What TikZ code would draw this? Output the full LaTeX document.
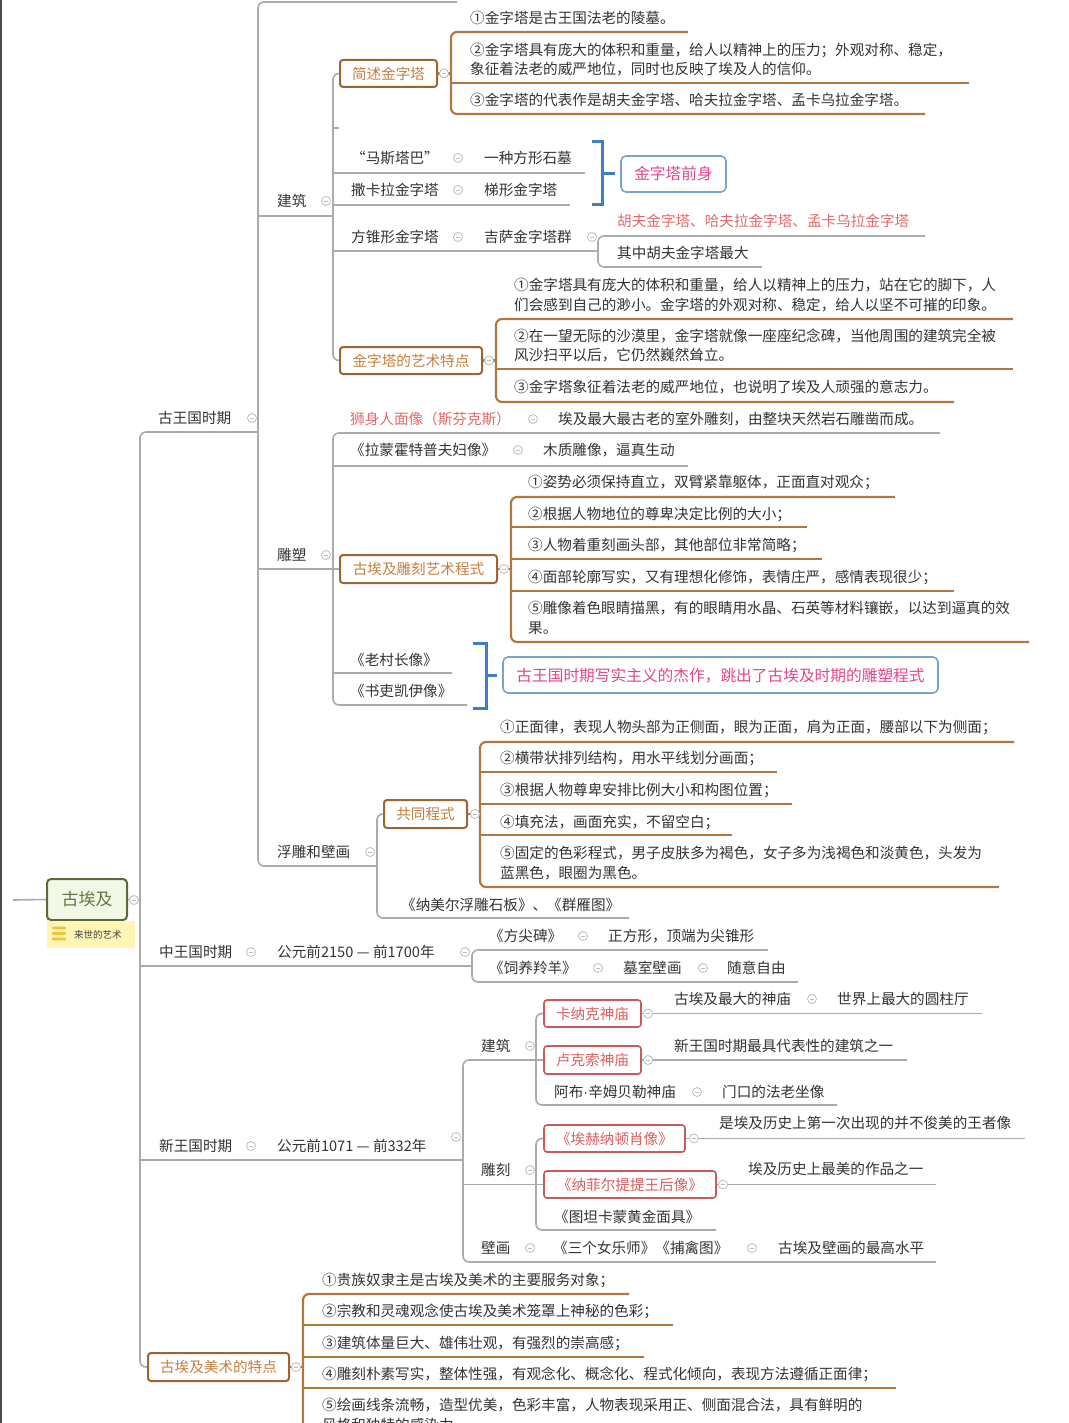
\documentclass[tikz,border=0pt]{standalone}
\usepackage{fontspec}
\setmainfont{Noto Sans CJK SC}
\newfontfamily\latinf{Liberation Sans}
\definecolor{gline}{HTML}{ABABAB}
\definecolor{bline}{HTML}{B07840}
\definecolor{bborder}{HTML}{9C6633}
\definecolor{btext}{HTML}{C67E3E}
\definecolor{rborder}{HTML}{C95B5B}
\definecolor{rtext}{HTML}{D9605E}
\definecolor{bracketblue}{HTML}{3E7EC6}
\definecolor{bluebox}{HTML}{77A3D0}
\definecolor{pinktext}{HTML}{E2468B}
\definecolor{salmon}{HTML}{E2696A}
\definecolor{maintext}{HTML}{333333}
\definecolor{rootborder}{HTML}{5B6A38}
\definecolor{rootfill}{HTML}{F3F7E5}
\definecolor{roottext}{HTML}{66763F}
\definecolor{notefill}{HTML}{FFF6B5}
\definecolor{noteicon}{HTML}{F1C23C}
\definecolor{clpscol}{HTML}{BDBDBD}
\newcommand{\fs}{\fontsize{14.6}{19.6}\selectfont}
\newcommand{\fsb}{\fontsize{15.7}{19.6}\selectfont}
\begin{document}
\begin{tikzpicture}[x=1pt,y=-1pt,
 txt/.style={anchor=west, inner sep=0pt, font=\fs, text=maintext, text height=12.8pt, text depth=1.7pt},
 mtxt/.style={anchor=west, inner sep=0pt, font=\fs, text=maintext, align=left},
 gl/.style={draw=gline, line width=1.6pt, rounded corners=6pt},
 bl/.style={draw=bline, line width=2.2pt, rounded corners=6pt},
 bbox/.style={draw=bborder, line width=2pt, rounded corners=3pt, fill=white, text=btext, font=\fs, inner sep=0pt, text height=12.8pt, text depth=1.7pt},
 rbox/.style={draw=rborder, line width=1.6pt, rounded corners=3pt, fill=white, text=rtext, font=\fs, inner sep=0pt, text height=12.8pt, text depth=1.7pt},
 blbox/.style={draw=bluebox, line width=1.6pt, rounded corners=5pt, fill=white, text=pinktext, font=\fsb, inner sep=0pt, text height=13.8pt, text depth=1.8pt},
 brk/.style={draw=bracketblue, line width=3pt},
 clps/.style={circle, draw=clpscol, fill=white, line width=0.8pt, minimum size=9pt, inner sep=0pt,
   path picture={\draw[clpscol, line width=0.8pt] ([xshift=-2.4pt]path picture bounding box.center) -- ([xshift=2.4pt]path picture bounding box.center);}},
]
\path[use as bounding box, fill=white] (0,0) rectangle (1068,1423);
\clip (0,0) rectangle (1068,1423);
\draw[line width=2.2pt, draw=black!70] (1,0) -- (1,1423);

% ---------- main trunk ----------
\node[draw=rootborder, line width=2pt, rounded corners=4pt, fill=rootfill, text=roottext,
  font=\fontsize{17}{20}\selectfont, minimum width=80pt, minimum height=41pt, inner sep=0pt] (root) at (87,899.5) {古埃及};
\fill[notefill] (47,921) rectangle (135,948);
\foreach \yy in {928,933.5,939} \fill[noteicon, rounded corners=1pt] (52,\yy-1.3) rectangle (66,\yy+1.3);
\node[anchor=west, inner sep=0pt, font=\fontsize{9.5}{11}\selectfont, text=black!75] (note) at (74,934.5) {来世的艺术};

\node[draw=bborder, line width=2pt, rounded corners=3pt, fill=white, text=btext, font=\fs, inner sep=0pt, text height=12.8pt, text depth=1.7pt, minimum width=141pt, minimum height=28pt] (tedian) at (218.5,1367) {古埃及美术的特点};

\draw[gl] (13,900) -- (root.west);
\draw[gl] (root.east) -- (140,900);
\draw[gl] (258,432) -- (140,432) -- (140,1367) -- (tedian.west);

% ---------- 古王国时期 ----------
\node[txt] (gwg) at (158,418) {古王国时期};
\draw[gl] (457,2) -- (258,2) -- (258,866) -- (377,866);

% 建筑
\node[txt] (jz1) at (277,201) {建筑};
\draw[gl] (258,216) -- (333,216);
\node[bbox, minimum width=97pt, minimum height=27pt] (jsjzt) at (388.5,73.5) {简述金字塔};
\node[bbox, minimum width=142pt, minimum height=27pt] (ystd) at (411,360.5) {金字塔的艺术特点};
\draw[gl] (jsjzt.west) -- (333,73.5) -- (333,360.5) -- (ystd.west);
\draw[gl] (333,128) -- (339,128);

\node[txt] (mstb) at (351,158) {“马斯塔巴”};
\node[txt] (yzfx) at (484,158) {一种方形石墓};
\draw[gl] (333,173) -- (585,173);
\node[txt] (skl) at (351,190) {撒卡拉金字塔};
\node[txt] (txjzt) at (484,190) {梯形金字塔};
\draw[gl] (333,205) -- (570,205);
\node[txt] (fzx) at (351,237) {方锥形金字塔};
\node[txt] (jsq) at (484,237) {吉萨金字塔群};
\draw[gl] (333,251) -- (598,251);
\node[txt, text=salmon] (hfjzt) at (617,221) {胡夫金字塔、哈夫拉金字塔、孟卡乌拉金字塔};
\node[txt] (qzhf) at (617,253) {其中胡夫金字塔最大};
\draw[gl] (925,236) -- (598,236) -- (598,267) -- (762,267);

\draw[brk] (592,142) -- (602,142) -- (602,205) -- (592,205);
\draw[brk] (602,173.5) -- (615,173.5);
\node[blbox, minimum width=105pt, minimum height=36pt] (qs) at (673.5,174) {金字塔前身};

% 简述金字塔 children
\draw[bl] (jsjzt.east) -- (451,73.5);
\draw[bl] (688,32) -- (451,32) -- (451,114) -- (925,114);
\draw[bl] (451,83) -- (969,83);
\node[txt] (a1) at (470,18) {①金字塔是古王国法老的陵墓。};
\node[mtxt] (a2) at (470,59.5) {②金字塔具有庞大的体积和重量，给人以精神上的压力；外观对称、稳定，\\象征着法老的威严地位，同时也反映了埃及人的信仰。};
\node[txt] (a3) at (470,100) {③金字塔的代表作是胡夫金字塔、哈夫拉金字塔、孟卡乌拉金字塔。};

% 艺术特点 children
\draw[bl] (ystd.east) -- (496,360.5);
\draw[bl] (1013,319) -- (496,319) -- (496,402) -- (954,402);
\draw[bl] (496,369) -- (1013,369);
\node[mtxt] (b1) at (514,295) {①金字塔具有庞大的体积和重量，给人以精神上的压力，站在它的脚下，人\\们会感到自己的渺小。金字塔的外观对称、稳定，给人以坚不可摧的印象。};
\node[mtxt] (b2) at (514,345.5) {②在一望无际的沙漠里，金字塔就像一座座纪念碑，当他周围的建筑完全被\\风沙扫平以后，它仍然巍然耸立。};
\node[txt] (b3) at (514,387) {③金字塔象征着法老的威严地位，也说明了埃及人顽强的意志力。};

% 雕塑
\node[txt] (ds) at (277,555) {雕塑};
\node[bbox, minimum width=157pt, minimum height=28pt] (dkcs) at (418.5,569) {古埃及雕刻艺术程式};
\draw[gl] (258,569) -- (dkcs.west);
\draw[gl] (940,433) -- (333,433) -- (333,705) -- (467,705);
\node[txt, text=salmon] (ssrm) at (350,419) {狮身人面像（斯芬克斯）};
\node[txt] (ssrmd) at (558,419) {埃及最大最古老的室外雕刻，由整块天然岩石雕凿而成。};
\node[txt] (lmht) at (350,450) {《拉蒙霍特普夫妇像》};
\node[txt] (mzdx) at (543,450) {木质雕像，逼真生动};
\draw[gl] (333,466) -- (688,466);
\node[txt] (lcz) at (350,660) {《老村长像》};
\draw[gl] (333,673) -- (452,673);
\node[txt] (sl) at (350,691) {《书吏凯伊像》};
\draw[brk] (473,643) -- (486,643) -- (486,708) -- (473,708);
\draw[brk] (486,675) -- (497,675);
\node[blbox, minimum width=435pt, minimum height=36pt] (xszy) at (720.5,675) {古王国时期写实主义的杰作，跳出了古埃及时期的雕塑程式};

\draw[bl] (dkcs.east) -- (511,569);
\draw[bl] (895,497) -- (511,497) -- (511,642) -- (1029,642);
\draw[bl] (511,527) -- (807,527);
\draw[bl] (511,559) -- (822,559);
\draw[bl] (511,591) -- (954,591);
\node[txt] (c1) at (528,482) {①姿势必须保持直立，双臂紧靠躯体，正面直对观众；};
\node[txt] (c2) at (528,514) {②根据人物地位的尊卑决定比例的大小；};
\node[txt] (c3) at (528,545) {③人物着重刻画头部，其他部位非常简略；};
\node[txt] (c4) at (528,577) {④面部轮廓写实，又有理想化修饰，表情庄严，感情表现很少；};
\node[mtxt] (c5) at (528,618) {⑤雕像着色眼睛描黑，有的眼睛用水晶、石英等材料镶嵌，以达到逼真的效\\果。};

% 浮雕和壁画
\node[txt] (fdbh) at (277,852) {浮雕和壁画};
\node[bbox, minimum width=83pt, minimum height=28pt] (gtcs) at (425.5,814) {共同程式};
\draw[gl] (gtcs.west) -- (377,814) -- (377,918) -- (629,918);
\node[txt] (nme) at (401,905) {《纳美尔浮雕石板》、《群雁图》};
\draw[bl] (gtcs.east) -- (480,814);
\draw[bl] (1014,742) -- (480,742) -- (480,887) -- (999,887);
\draw[bl] (480,772) -- (777,772);
\draw[bl] (480,804) -- (792,804);
\draw[bl] (480,835) -- (732,835);
\node[txt] (d1) at (500,727) {①正面律，表现人物头部为正侧面，眼为正面，肩为正面，腰部以下为侧面；};
\node[txt] (d2) at (500,758) {②横带状排列结构，用水平线划分画面；};
\node[txt] (d3) at (500,790) {③根据人物尊卑安排比例大小和构图位置；};
\node[txt] (d4) at (500,822) {④填充法，画面充实，不留空白；};
\node[mtxt] (d5) at (500,863) {⑤固定的色彩程式，男子皮肤多为褐色，女子多为浅褐色和淡黄色，头发为\\蓝黑色，眼圈为黑色。};

% ---------- 中王国时期 ----------
\node[txt] (zwg) at (159,952) {中王国时期};
\node[txt] (zwgy) at (277,952) {公元前2150 — 前1700年};
\draw[gl] (140,966) -- (472,966);
\draw[gl] (768,950) -- (472,950) -- (472,982) -- (798,982);
\node[txt] (fjb) at (489,936) {《方尖碑》};
\node[txt] (zfx) at (608,936) {正方形，顶端为尖锥形};
\node[txt] (syly) at (489,968) {《饲养羚羊》};
\node[txt] (msbh) at (623,968) {墓室壁画};
\node[txt] (syzy) at (727,968) {随意自由};

% ---------- 新王国时期 ----------
\node[txt] (xwg) at (159,1146) {新王国时期};
\node[txt] (xwgy) at (277,1146) {公元前1071 — 前332年};
\draw[gl] (140,1160) -- (463,1160);
\node[rbox, minimum width=97pt, minimum height=27pt] (knk) at (592.5,1013.5) {卡纳克神庙};
\node[rbox, minimum width=97pt, minimum height=28pt] (lks) at (592.5,1060) {卢克索神庙};
\draw[gl] (936,1262) -- (463,1262) -- (463,1060) -- (lks.west);
\node[txt] (jz2) at (481,1046) {建筑};
\draw[gl] (knk.west) -- (536,1013.5) -- (536,1105) -- (837,1105);
\draw[gl] (knk.east) -- (982,1013.5);
\node[txt] (zdsm) at (674,999) {古埃及最大的神庙};
\node[txt] (yzt) at (837,999) {世界上最大的圆柱厅};
\draw[gl] (lks.east) -- (907,1060);
\node[txt] (dbx) at (674,1046) {新王国时期最具代表性的建筑之一};
\node[txt] (abx) at (554,1092) {阿布{\latinf ·}辛姆贝勒神庙};
\node[txt] (mk) at (722,1092) {门口的法老坐像};

\node[txt] (dk2) at (481,1170) {雕刻};
\node[rbox, minimum width=141pt, minimum height=27pt] (ahnd) at (614.5,1138.5) {《埃赫纳顿肖像》};
\node[rbox, minimum width=172pt, minimum height=27pt] (nfet) at (630,1184.5) {《纳菲尔提提王后像》};
\draw[gl] (463,1184.5) -- (nfet.west);
\draw[gl] (ahnd.west) -- (536,1138.5) -- (536,1230) -- (716,1230);
\draw[gl] (ahnd.east) -- (1025,1138.5);
\node[txt] (bjm) at (719,1123) {是埃及历史上第一次出现的并不俊美的王者像};
\draw[gl] (nfet.east) -- (936,1184.5);
\node[txt] (zmd) at (748,1169) {埃及历史上最美的作品之一};
\node[txt] (tt) at (554,1217) {《图坦卡蒙黄金面具》};
\node[txt] (bh) at (481,1248) {壁画};
\node[txt] (sgn) at (553,1248) {《三个女乐师》《捕禽图》};
\node[txt] (zgsp) at (778,1248) {古埃及壁画的最高水平};

% ---------- 古埃及美术的特点 ----------
\draw[bl] (tedian.east) -- (303,1367);
\draw[bl] (629,1294) -- (303,1294) -- (303,1440);
\draw[bl] (303,1325) -- (673,1325);
\draw[bl] (303,1357) -- (644,1357);
\draw[bl] (303,1388) -- (896,1388);
\node[txt] (e1) at (322,1280) {①贵族奴隶主是古埃及美术的主要服务对象；};
\node[txt] (e2) at (322,1311) {②宗教和灵魂观念使古埃及美术笼罩上神秘的色彩；};
\node[txt] (e3) at (322,1343) {③建筑体量巨大、雄伟壮观，有强烈的崇高感；};
\node[txt] (e4) at (322,1374) {④雕刻朴素写实，整体性强，有观念化、概念化、程式化倾向，表现方法遵循正面律；};
\node[mtxt] (e5) at (322,1415) {⑤绘画线条流畅，造型优美，色彩丰富，人物表现采用正、侧面混合法，具有鲜明的\\风格和独特的感染力。};

% ---------- collapse markers ----------
\foreach \cx/\cy in {134/900, 252/418, 326/201, 444/73.5, 458/158, 458/190, 458/237, 592/237, 489/360.5,
  533/419, 518/450, 326/555, 504/569, 370/852, 475/814, 296/1367,
  251/952, 465/952, 583/936, 598/968, 703/968,
  251/1146, 456/1137, 530/1046, 648/1013.5, 812/999, 648/1060, 697/1092,
  530/1170, 694/1138.5, 723/1184.5, 530/1248, 752/1248}
  \node[clps] at (\cx,\cy) {};
\end{tikzpicture}
\end{document}
